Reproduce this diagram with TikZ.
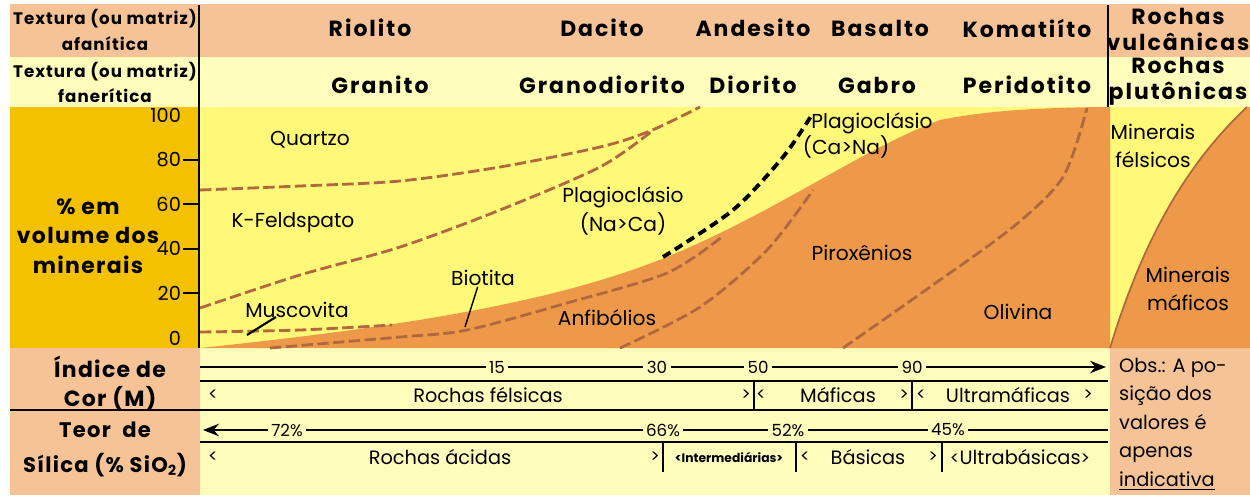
\documentclass[tikz,border=0pt]{standalone}
\usepackage{fontspec}
\setmainfont{Poppins}
\newfontfamily\spacedFont{Poppins}[LetterSpace=9]
\newfontfamily\sideFont{Poppins}[LetterSpace=6]
\usetikzlibrary{arrows.meta}
\definecolor{salmonColor}{RGB}{245,195,150}
\definecolor{paleColor}{RGB}{255,253,187}
\definecolor{chartYellow}{RGB}{255,248,120}
\definecolor{maficOrange}{RGB}{238,153,74}
\definecolor{goldColor}{RGB}{244,193,0}
\definecolor{lineBrown}{RGB}{178,104,62}
\tikzstyle{chart} = [x = 0.02cm, y = -0.02cm]
\tikzstyle{rockName} = [font={\spacedFont\bfseries\fontsize{12.5}{14.5}\selectfont}, align=center]
\tikzstyle{sideHead} = [font={\sideFont\bfseries\fontsize{9.5}{14.5}\selectfont}, align=center]
\tikzstyle{bigHead} = [font={\sideFont\bfseries\fontsize{12.5}{16.8}\selectfont}, align=center]
\tikzstyle{mineralText} = [font=\fontsize{11.5}{16}\selectfont, align=center]
\tikzstyle{axisText} = [font=\fontsize{11}{12}\selectfont, anchor=east, inner sep=1pt]
\tikzstyle{scaleText} = [font=\fontsize{9.5}{10}\selectfont, fill=paleColor, inner xsep=2pt, inner ysep=1pt]
\tikzstyle{classText} = [font=\fontsize{11}{12}\selectfont]
\tikzstyle{bracketText} = [font=\fontsize{10}{11}\selectfont, inner sep=1pt]
\tikzstyle{boundaryLine} = [color=lineBrown, line width=1.6pt, dash pattern=on 6.5pt off 2.5pt]
\tikzstyle{plagLine} = [color=black, line width=2.2pt, dash pattern=on 5pt off 3pt]
\tikzstyle{pointerLine} = [color=black, line width=0.8pt]
\tikzstyle{scaleLine} = [color=black, line width=1.4pt]
\tikzstyle{ruleLine} = [color=black, line width=0.8pt]
\tikzstyle{barLine} = [color=black, line width=1.3pt]
\newcommand{\axisY}[1]{\pgfmathsetmacro{\ypos}{338 - 2.23 * #1}}
\newcommand{\scaleBar}[3]{\draw [barLine] (#1,#2) -- (#1,#3);}

\begin{document}
\begin{tikzpicture}[chart]
  \useasboundingbox (0,0) rectangle (1250,495);
  \fill [salmonColor] (10,4) rectangle (1250,57);
  \fill [paleColor] (10,57) rectangle (1250,107);
  \fill [goldColor] (10,107) rectangle (200,348);
  \fill [chartYellow] (200,107) rectangle (1250,348);
  \fill [salmonColor] (10,348) rectangle (200,495);
  \fill [paleColor] (200,348) rectangle (1110,495);
  \fill [salmonColor] (1110,348) rectangle (1250,495);

  \fill [maficOrange] (200,348) .. controls (420,325) and (560,300) .. (667,257) .. controls (780,210) and (860,150) .. (940,120) .. controls (990,110) and (1040,108) .. (1100,107) -- (1110,107) -- (1110,348) -- cycle;
  \fill [maficOrange] (1110,348) .. controls (1140,250) and (1180,170) .. (1247,107) -- (1250,107) -- (1250,348) -- cycle;
  \draw [color=lineBrown, line width=1pt] (1110,348) .. controls (1140,250) and (1180,170) .. (1247,107);

  \draw [boundaryLine] plot [smooth] coordinates {(200,190) (300,186) (400,181) (500,167) (600,147) (650,131) (700,107)};
  \draw [boundaryLine] plot [smooth] coordinates {(200,308) (300,275) (400,247) (500,210) (600,167) (652,131)};
  \draw [boundaryLine] plot [smooth] coordinates {(200,332) (300,330) (392,325)};
  \draw [boundaryLine] plot [smooth] coordinates {(270,348) (400,337) (467,330) (567,303) (667,273) (723,236)};
  \draw [boundaryLine] plot [smooth] coordinates {(620,348) (700,307) (767,250) (813,190)};
  \draw [boundaryLine] plot [smooth] coordinates {(843,348) (930,287) (1013,227) (1063,177) (1087,108)};
  \draw [plagLine] plot [smooth] coordinates {(663,257) (733,210) (783,157) (813,113)};

  \draw [color=black, line width=1.6pt] (199,5) -- (199,348);
  \draw [color=black, line width=0.9pt] (1108,5) -- (1108,107);

  \node [sideHead] (afaniticaHead) at (105,30) {Textura (ou matriz)\\afanítica};
  \node [sideHead] (faneriticaHead) at (105,82.5) {Textura (ou matriz)\\fanerítica};
  \node [rockName] (riolito) at (370,28) {Riolito};
  \node [rockName] (dacito) at (602,28) {Dacito};
  \node [rockName] (andesito) at (753,28) {Andesito};
  \node [rockName] (basalto) at (880,28) {Basalto};
  \node [rockName] (komatiito) at (1027,28) {Komatiíto};
  \node [rockName] (vulcanicas) at (1178,29.5) {Rochas\\vulcânicas};
  \node [rockName] (granito) at (380,85) {Granito};
  \node [rockName] (granodiorito) at (602,85) {Granodiorito};
  \node [rockName] (diorito) at (753,85) {Diorito};
  \node [rockName] (gabro) at (877,85) {Gabro};
  \node [rockName] (peridotito) at (1027,85) {Peridotito};
  \node [rockName] (plutonicas) at (1178,81.5) {Rochas\\plutônicas};

  \node [bigHead] (volumeHead) at (88,236) {\% em\\volume dos\\minerais};
  \foreach \val in {0,20,...,100} {
    \axisY{\val}
    \node [axisText] (axis\val) at (183,\ypos) {\val};
  }
  \foreach \val in {20,40,...,80} {
    \axisY{\val}
    \draw [ruleLine, line width=1.2pt] (axis\val.east) -- (199,\ypos);
  }

  \node [mineralText] (quartzo) at (310,140) {Quartzo};
  \node [mineralText] (feldspato) at (293,223) {K-Feldspato};
  \node [mineralText] (muscovita) at (297,310) {Muscovita};
  \node [mineralText] (biotita) at (483,278) {Biotita};
  \node [mineralText] (plagNa) at (623,211) {Plagioclásio\\(Na>Ca)};
  \node [mineralText] (anfibolios) at (607,318) {Anfibólios};
  \node [mineralText] (piroxenios) at (862,253) {Piroxênios};
  \node [mineralText] (plagCa) at (872,123) {Plagioclásio};
  \node [mineralText] (plagCaSub) at (846,147) {(Ca>Na)};
  \node [mineralText] (olivina) at (1018,312) {Olivina};
  \node [mineralText] (felsicos) at (1153,146) {Minerais\\félsicos};
  \node [mineralText] (maficos) at (1188,289) {Minerais\\máficos};
  \coordinate (muscovitaBand) at (247,335);
  \coordinate (biotitaBand) at (465,327);
  \draw [pointerLine, line width=1.2pt] ([xshift=-12pt, yshift=4pt]muscovita.south) -- (muscovitaBand);
  \draw [pointerLine] ([xshift=-3pt, yshift=3pt]biotita.south) -- (biotitaBand);

  \node [bigHead] (corHead) at (110,383.5) {Índice de\\Cor (M)};
  \node [bigHead, font={\sideFont\bfseries\fontsize{12}{20}\selectfont}] (silicaHead) at (105,449.5) {Teor~~de\\Sílica (\% SiO\textsubscript{2})};

  \draw [scaleLine, -{Stealth[length=9pt, width=7pt]}] (200,367) -- (1106,367);
  \node [scaleText] (m15) at (497,367) {15};
  \node [scaleText] (m30) at (657,367) {30};
  \node [scaleText] (m50) at (758,367) {50};
  \node [scaleText] (m90) at (912,367) {90};
  \draw [ruleLine] (200,381) -- (1108,381);
  \draw [ruleLine] (10,410) -- (1108,410);
  \scaleBar{754}{381}{410}
  \scaleBar{912}{381}{410}
  \node [bracketText] (felsicasOpen) at (213,395) {<};
  \node [classText] (felsicas) at (488,395) {Rochas félsicas};
  \node [bracketText] (felsicasClose) at (746,395) {>};
  \node [bracketText] (maficasOpen) at (761,395) {<};
  \node [classText] (maficas) at (838,395) {Máficas};
  \node [bracketText] (maficasClose) at (904,395) {>};
  \node [bracketText] (ultramaficasOpen) at (921,395) {<};
  \node [classText] (ultramaficas) at (1008,395) {Ultramáficas};
  \node [bracketText] (ultramaficasClose) at (1088,395) {>};

  \draw [scaleLine, -{Stealth[length=9pt, width=7pt]}] (1108,430) -- (203,430);
  \node [scaleText] (s72) at (287,430) {72\%};
  \node [scaleText] (s66) at (663,430) {66\%};
  \node [scaleText] (s52) at (788,430) {52\%};
  \node [scaleText] (s45) at (948,430) {45\%};
  \draw [ruleLine] (200,442) -- (1108,442);
  \scaleBar{663}{442}{472}
  \scaleBar{796}{442}{472}
  \scaleBar{942}{442}{472}
  \node [bracketText] (acidasOpen) at (213,457) {<};
  \node [classText] (acidas) at (440,457) {Rochas ácidas};
  \node [bracketText] (acidasClose) at (655,457) {>};
  \node [font={\bfseries\fontsize{7}{8}\selectfont}, inner sep=1pt] (intermediarias) at (729,457) {<Intermediárias>};
  \node [bracketText] (basicasOpen) at (805,457) {<};
  \node [classText] (basicas) at (868,457) {Básicas};
  \node [bracketText] (basicasClose) at (933,457) {>};
  \node [classText] (ultrabasicas) at (1020,457) {{\fontsize{10}{11}\selectfont<}Ultrabásicas{\fontsize{10}{11}\selectfont>}};

  \node [classText, align=left, anchor=west, font=\fontsize{11}{16.2}\selectfont] (obs) at (1113,424) {Obs.: A po-\\sição dos\\valores é\\apenas\\\underline{indicativa}};
\end{tikzpicture}
\end{document}
